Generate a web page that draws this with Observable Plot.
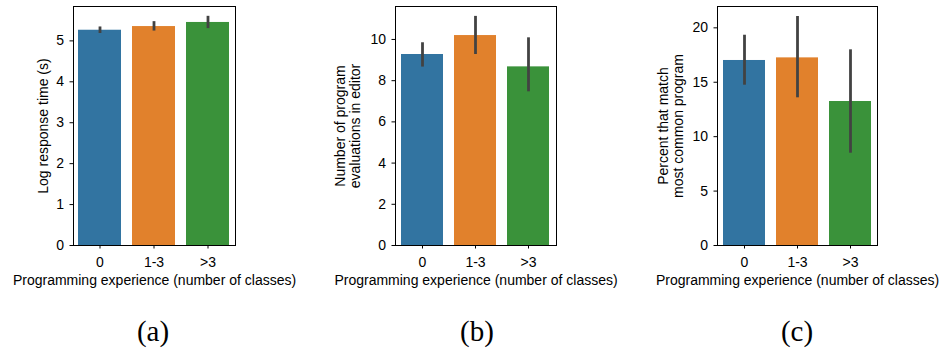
<!DOCTYPE html>
<html>
<head>
<meta charset="utf-8">
<script src="https://cdn.jsdelivr.net/npm/d3@7"></script>
<script src="https://cdn.jsdelivr.net/npm/@observablehq/plot@0.6"></script>
<style>
  html, body { margin: 0; padding: 0; background: #fff; }
  #wrap { position: relative; width: 947px; height: 351px; overflow: hidden; }
  .panel { position: absolute; top: 0; }
  .cap { position: absolute; top: 317px; line-height: 1; font-family: "Liberation Serif", "DejaVu Serif", serif; font-size: 29px; color: #000; transform: translateX(-50%); }
</style>
</head>
<body>
<div id="wrap"></div>
<script>
// Data
const categories = ["0", "1-3", ">3"];
const colors = ["#3274a1", "#e1812c", "#3a923a"];
const xLabel = "Programming experience (number of classes)";

const logTime = [5.26, 5.35, 5.45];
const logTimeLo = [5.18, 5.24, 5.30];
const logTimeHi = [5.34, 5.47, 5.60];

const evals = [9.27, 10.19, 8.67];
const evalsLo = [8.66, 9.27, 7.46];
const evalsHi = [9.84, 11.12, 10.08];

const pct = [17.0, 17.24, 13.23];
const pctLo = [14.73, 13.57, 8.48];
const pctHi = [19.32, 21.04, 17.98];

const yTicksA = [0, 1, 2, 3, 4, 5];
const yTicksB = [0, 2, 4, 6, 8, 10];
const yTicksC = [0, 5, 10, 15, 20];

const panels = [
  {left: 0, width: 310, ml: 73, mr: 75, top: 5.84, ticks: yTicksA, vals: logTime, lo: logTimeLo, hi: logTimeHi,
   ylabel: "Log response time (s)", ydx: -30, cap: "(a)", capX: 153},
  {left: 320, width: 310, ml: 75, mr: 74, top: 11.6, ticks: yTicksB, vals: evals, lo: evalsLo, hi: evalsHi,
   ylabel: "Number of program\nevaluations in editor", ydx: -48, cap: "(b)", capX: 477},
  {left: 630, width: 317, ml: 87, mr: 70, top: 21.96, ticks: yTicksC, vals: pct, lo: pctLo, hi: pctHi,
   ylabel: "Percent that match\nmost common program", ydx: -47, cap: "(c)", capX: 797}
];

const wrap = document.getElementById("wrap");
const font = "Liberation Sans, Arial, sans-serif";

for (const p of panels) {
  const rows = categories.map((c, i) => ({cat: c, v: p.vals[i], lo: p.lo[i], hi: p.hi[i], color: colors[i]}));
  const chart = Plot.plot({
    width: p.width,
    height: 300,
    marginLeft: p.ml,
    marginRight: p.mr,
    marginTop: 6,
    marginBottom: 55,
    style: {fontFamily: font, fontSize: "14px", color: "#000", background: "transparent"},
    x: {domain: categories, paddingInner: 0.2, paddingOuter: 0.1, label: null},
    y: {domain: [0, p.top], label: null},
    marks: [
      Plot.barY(rows, {x: "cat", y: "v", fill: "color"}),
      Plot.ruleX(rows, {x: "cat", y1: "lo", y2: "hi", stroke: "#424242", strokeWidth: 2.8}),
      Plot.axisX({tickSize: 3.5, tickPadding: 8, label: null, fontSize: 14}),
      Plot.axisY({ticks: p.ticks, tickFormat: "d", tickSize: 3.5, tickPadding: 6, label: null, fontSize: 14}),
      Plot.frame({stroke: "#000", strokeWidth: 1}),
      Plot.text([p.ylabel], {frameAnchor: "left", rotate: -90, dx: p.ydx, textAnchor: "middle", lineAnchor: "middle", lineHeight: 1.05, fontSize: 14, fill: "#000"}),
      Plot.text([xLabel], {frameAnchor: "bottom", dy: 30, lineAnchor: "top", textAnchor: "middle", fontSize: 14, fill: "#000"})
    ]
  });
  chart.classList.add("panel");
  chart.style.left = p.left + "px";
  chart.style.overflow = "visible";
  wrap.appendChild(chart);
  const cap = document.createElement("div");
  cap.className = "cap";
  cap.style.left = p.capX + "px";
  cap.textContent = p.cap;
  wrap.appendChild(cap);
}
</script>
</body>
</html>
